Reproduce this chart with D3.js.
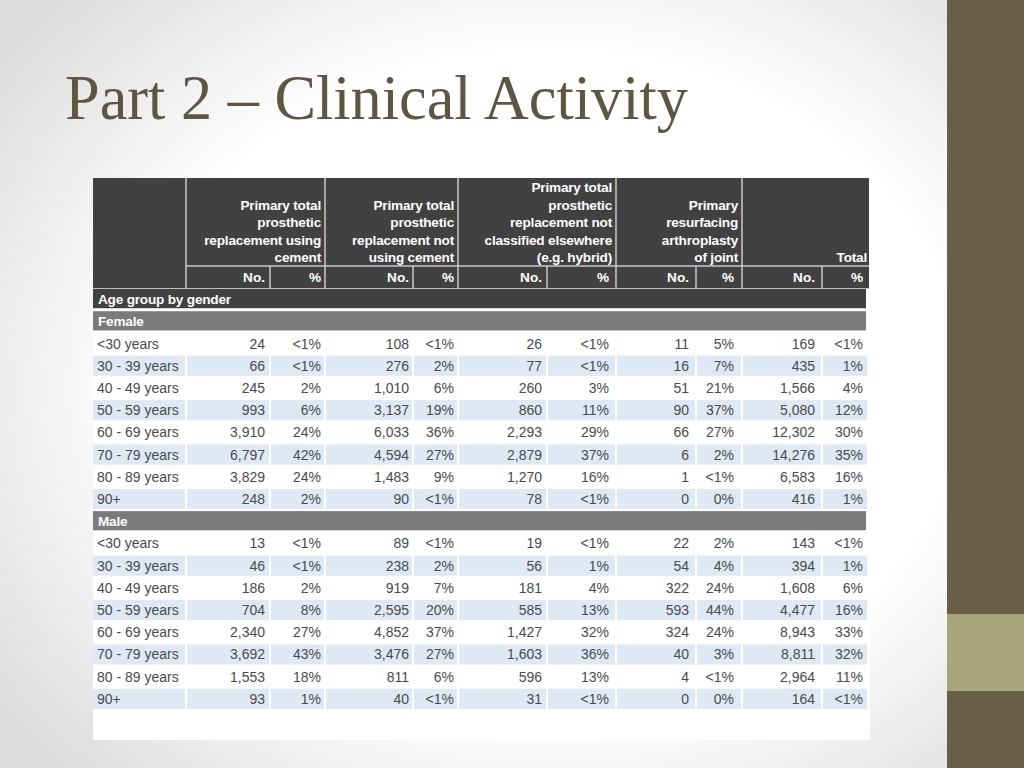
<!DOCTYPE html>
<html><head><meta charset="utf-8">
<script src="https://cdn.jsdelivr.net/npm/d3@7"></script>
<style>html,body{margin:0;padding:0;overflow:hidden;background:#fff}</style>
</head><body><svg id="c" width="1024" height="768"></svg>
<script>
// ---------- data ----------
const title = "Part 2 – Clinical Activity";
const ageGroups = ["<30 years","30 - 39 years","40 - 49 years","50 - 59 years","60 - 69 years","70 - 79 years","80 - 89 years","90+"];
const genders = ["Female","Male"];
const sectionLabel = "Age group by gender";
const groupLabels = [
  ["Primary total","prosthetic","replacement using","cement"],
  ["Primary total","prosthetic","replacement not","using cement"],
  ["Primary total","prosthetic","replacement not","classified elsewhere","(e.g. hybrid)"],
  ["Primary","resurfacing","arthroplasty","of joint"],
  ["Total"]
];
const subLabels = ["No.","%"];

const femaleCementNo   = [24, 66, 245, 993, 3910, 6797, 3829, 248];
const femaleCementPct  = ["<1%","<1%","2%","6%","24%","42%","24%","2%"];
const femaleUncemNo    = [108, 276, 1010, 3137, 6033, 4594, 1483, 90];
const femaleUncemPct   = ["<1%","2%","6%","19%","36%","27%","9%","<1%"];
const femaleHybridNo   = [26, 77, 260, 860, 2293, 2879, 1270, 78];
const femaleHybridPct  = ["<1%","<1%","3%","11%","29%","37%","16%","<1%"];
const femaleResurfNo   = [11, 16, 51, 90, 66, 6, 1, 0];
const femaleResurfPct  = ["5%","7%","21%","37%","27%","2%","<1%","0%"];
const femaleTotalNo    = [169, 435, 1566, 5080, 12302, 14276, 6583, 416];
const femaleTotalPct   = ["<1%","1%","4%","12%","30%","35%","16%","1%"];

const maleCementNo     = [13, 46, 186, 704, 2340, 3692, 1553, 93];
const maleCementPct    = ["<1%","<1%","2%","8%","27%","43%","18%","1%"];
const maleUncemNo      = [89, 238, 919, 2595, 4852, 3476, 811, 40];
const maleUncemPct     = ["<1%","2%","7%","20%","37%","27%","6%","<1%"];
const maleHybridNo     = [19, 56, 181, 585, 1427, 1603, 596, 31];
const maleHybridPct    = ["<1%","1%","4%","13%","32%","36%","13%","<1%"];
const maleResurfNo     = [22, 54, 322, 593, 324, 40, 4, 0];
const maleResurfPct    = ["2%","4%","24%","44%","24%","3%","<1%","0%"];
const maleTotalNo      = [143, 394, 1608, 4477, 8943, 8811, 2964, 164];
const maleTotalPct     = ["<1%","1%","6%","16%","33%","32%","11%","<1%"];

// ---------- layout ----------
const colWidths = [93, 84, 55, 88, 45, 89, 69, 80, 46, 80, 47];
const colPad    = [0, 5, 4, 4, 4, 5, 7, 7, 8, 7, 6];
const W = 1024, H = 768;
const svg = d3.select("#c");
const fmt = d3.format(",");

const totalW = d3.sum(colWidths);
const x = d3.scaleLinear().domain([0, totalW]).range([93, 869]);
const edges = [0, ...d3.cumsum(colWidths)];

const rows = [{type:"section", label: sectionLabel}];
const sets = {
  Female: [femaleCementNo, femaleCementPct, femaleUncemNo, femaleUncemPct, femaleHybridNo, femaleHybridPct, femaleResurfNo, femaleResurfPct, femaleTotalNo, femaleTotalPct],
  Male:   [maleCementNo, maleCementPct, maleUncemNo, maleUncemPct, maleHybridNo, maleHybridPct, maleResurfNo, maleResurfPct, maleTotalNo, maleTotalPct]
};
genders.forEach(g => {
  rows.push({type:"gender", label:g});
  ageGroups.forEach((a, i) => {
    rows.push({type:"data", label:a, idx:i,
      cells: sets[g].map((arr, j) => j % 2 === 0 ? fmt(arr[i]) : arr[i])});
  });
});
rows.forEach((r, i) => r.key = i);
const y = d3.scaleBand().domain(rows.map(r => r.key)).range([288, 710]);

// ---------- background ----------
const defs = svg.append("defs");
const rg = defs.append("radialGradient").attr("id","bg").attr("cx","58%").attr("cy","50%").attr("r","72%");
rg.append("stop").attr("offset","60%").attr("stop-color","#ffffff");
rg.append("stop").attr("offset","100%").attr("stop-color","#dcdcdc");
svg.append("rect").attr("width", 947).attr("height", H).attr("fill","url(#bg)");
svg.append("rect").attr("x",947).attr("width", W-947).attr("height", H).attr("fill","#6a5e47");
svg.append("rect").attr("x",947).attr("y",614).attr("width", W-947).attr("height", 77).attr("fill","#a8a47c");

// title
svg.append("text").attr("x",65).attr("y",119).text(title)
  .attr("font-family","'Liberation Serif', 'DejaVu Serif', serif")
  .attr("font-size",63).attr("fill","#5e5640")
  .attr("textLength",623).attr("lengthAdjust","spacingAndGlyphs");

// table white background
svg.append("rect").attr("x", x(0)).attr("y",178).attr("width", x(totalW)-x(0)+1).attr("height", 740-178).attr("fill","#fff");

// ---------- header ----------
const hTop = 178, hMid = 266, hBot = 288;
svg.append("rect").attr("x", x(0)).attr("y", hTop).attr("width", x(totalW)-x(0)).attr("height", hBot-hTop).attr("fill","#414141");
const lineCol = "#c9c9c9";
svg.append("line").attr("x1", x(edges[1])).attr("x2", x(totalW)).attr("y1", hMid).attr("y2", hMid)
  .attr("stroke", lineCol).attr("stroke-width",1.5);
[1,3,5,7,9].forEach(k => svg.append("line").attr("x1", x(edges[k])).attr("x2", x(edges[k]))
  .attr("y1", hTop).attr("y2", hBot).attr("stroke", lineCol).attr("stroke-width",1.5));
[2,4,6,8,10].forEach(k => svg.append("line").attr("x1", x(edges[k])).attr("x2", x(edges[k]))
  .attr("y1", hMid).attr("y2", hBot).attr("stroke", lineCol).attr("stroke-width",1.5));

const hFont = "'Liberation Sans', Arial, Helvetica, sans-serif";
groupLabels.forEach((lines, g) => {
  const right = x(edges[2*g+3]) - (g === 4 ? 2 : 4);
  lines.forEach((t, i) => {
    svg.append("text").attr("x", right).attr("y", 262 - (lines.length-1-i)*17.5)
      .attr("text-anchor","end").attr("font-family", hFont).attr("font-weight","bold")
      .attr("font-size",13.6).attr("letter-spacing",-0.2).attr("fill","#fff").text(t);
  });
  subLabels.forEach((t, s) => {
    const c = 2*g + 1 + s;
    svg.append("text").attr("x", x(edges[c+1]) - colPad[c]).attr("y", 282)
      .attr("text-anchor","end").attr("font-family", hFont).attr("font-weight","bold")
      .attr("font-size",13.6).attr("fill","#fff").text(t);
  });
});
svg.append("line").attr("x1", x(0)).attr("x2", x(totalW)).attr("y1", hBot+0.5).attr("y2", hBot+0.5)
  .attr("stroke","#bdbdbd").attr("stroke-width",1);

// ---------- body ----------
const bFont = "'Liberation Sans', Arial, Helvetica, sans-serif";
const g = svg.append("g");
rows.forEach(r => {
  const y0 = y(r.key), bh = y.bandwidth(), cy = y0 + bh/2;
  if (r.type !== "data") {
    g.append("rect").attr("x", x(0)).attr("y", y0 + 1).attr("width", x(totalW)-x(0)-3)
      .attr("height", bh - 3).attr("fill", r.type === "section" ? "#414141" : "#7b7b7b");
    g.append("text").attr("x", x(0)+5).attr("y", cy + 4.5).attr("font-family", bFont)
      .attr("font-weight","bold").attr("font-size",13.6).attr("letter-spacing",-0.2).attr("fill","#fff").text(r.label);
    return;
  }
  if (r.idx % 2 === 1) {
    colWidths.forEach((w, c) => {
      g.append("rect").attr("x", x(edges[c]) + (c===0?0:1)).attr("y", y0 + 1)
        .attr("width", x(edges[c+1]) - x(edges[c]) - (c===0?1:2) - (c===colWidths.length-1?1:0))
        .attr("height", bh - 2).attr("fill","#dfe9f6");
    });
  }
  g.append("text").attr("x", x(0)+4).attr("y", cy + 5).attr("font-family", bFont)
    .attr("font-size",14).attr("fill","#4a4a4a").text(r.label);
  r.cells.forEach((v, j) => {
    const c = j + 1;
    g.append("text").attr("x", x(edges[c+1]) - colPad[c]).attr("y", cy + 5)
      .attr("text-anchor","end").attr("font-family", bFont)
      .attr("font-size",14).attr("fill","#4a4a4a").text(v);
  });
});
</script></body></html>
